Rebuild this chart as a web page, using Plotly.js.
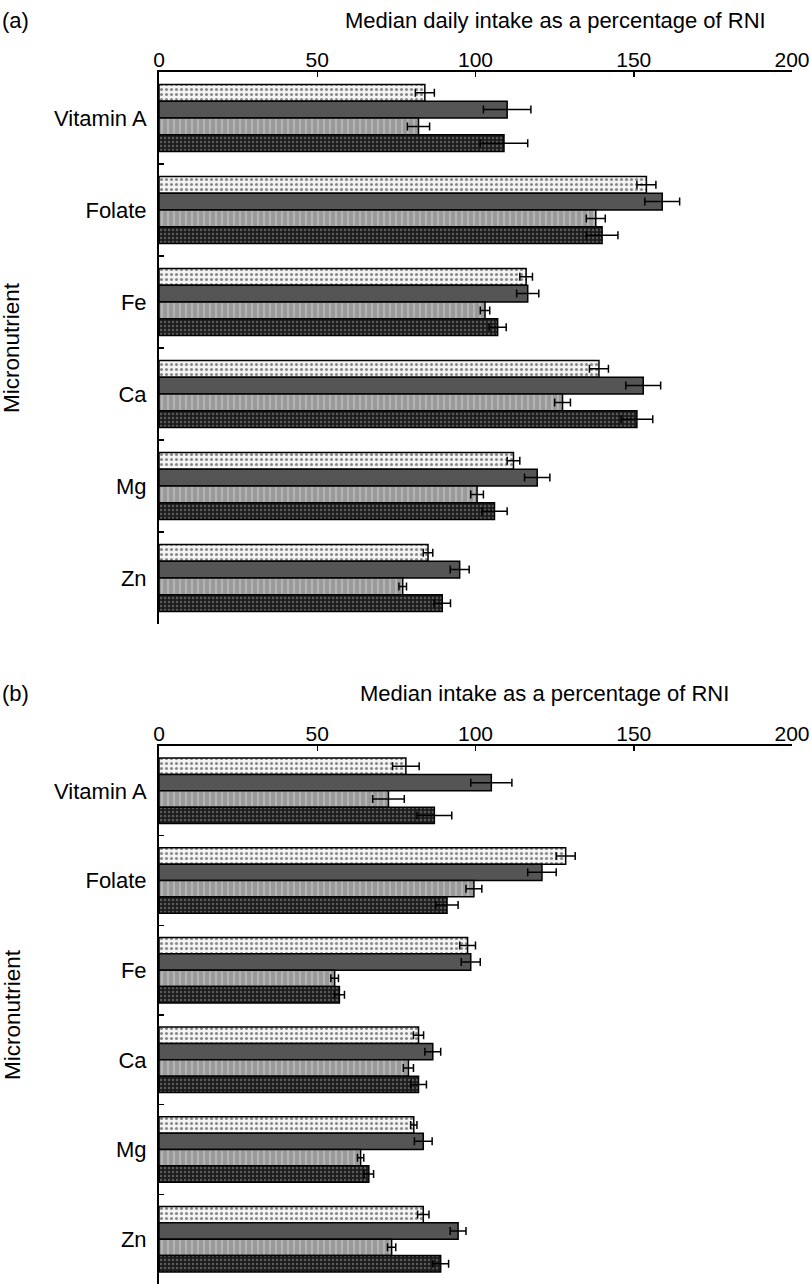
<!DOCTYPE html>
<html>
<head>
<meta charset="utf-8">
<script src="https://cdn.plot.ly/plotly-3.0.1.min.js"></script>
<style>html,body{margin:0;padding:0;background:#fff;}#chart{width:812px;height:1284px;}</style>
</head>
<body>
<div id="chart"></div>
<script>
const categories = ['Vitamin A', 'Folate', 'Fe', 'Ca', 'Mg', 'Zn'];
const xTicks = [0, 50, 100, 150, 200];
const titleA = 'Median daily intake as a percentage of RNI';
const titleB = 'Median intake as a percentage of RNI';
const yTitle = 'Micronutrient';

// Panel (a): median daily intake as % of RNI
const a1 = [84, 154, 116, 139, 112, 85];
const a1Err = [3, 3, 2, 3, 2, 1.5];
const a2 = [110, 159, 116.5, 153, 119.5, 95];
const a2Err = [7.5, 5.5, 3.5, 5.5, 4, 3];
const a3 = [82, 138, 103, 127.5, 100.5, 77];
const a3Err = [3.5, 3, 1.5, 2.5, 2, 1.2];
const a4 = [109, 140, 107, 151, 106, 89.5];
const a4Err = [7.5, 5, 2.7, 5, 4, 2.6];

// Panel (b): median intake as % of RNI
const b1 = [78, 128.5, 97.5, 82, 80.5, 83.5];
const b1Err = [4.2, 3, 2.5, 1.6, 1, 1.8];
const b2 = [105, 121, 98.5, 86.5, 83.5, 94.5];
const b2Err = [6.5, 4.5, 3, 2.5, 2.8, 2.5];
const b3 = [72.5, 99.5, 55.5, 78.8, 63.7, 73.5];
const b3Err = [5, 2.5, 1.2, 1.6, 1, 1.3];
const b4 = [87, 91, 57, 82, 66.3, 89];
const b4Err = [5.5, 3.5, 1.6, 2.5, 1.5, 2.5];

const styles = [
  {pattern: {shape: '.', bgcolor: '#f4f4f4', fgcolor: '#8a8a8a', size: 5, solidity: 0.3, fillmode: 'replace'}, color: '#f4f4f4'},
  {pattern: {shape: '', bgcolor: '#555555'}, color: '#555555'},
  {pattern: {shape: '|', bgcolor: '#9a9a9a', fgcolor: '#c4c4c4', size: 6, solidity: 0.2, fillmode: 'replace'}, color: '#9a9a9a'},
  {pattern: {shape: '.', bgcolor: '#1c1c1c', fgcolor: '#5a5a5a', size: 4, solidity: 0.3, fillmode: 'replace'}, color: '#1c1c1c'}
];

function mk(vals, errs, s, xa, ya) {
  return {
    type: 'bar', orientation: 'h', y: categories, x: vals,
    xaxis: xa, yaxis: ya, showlegend: false, hoverinfo: 'x+y',
    marker: {color: s.color, pattern: s.pattern, line: {color: '#000', width: 1.5}},
    error_x: {type: 'data', array: errs, symmetric: true, color: '#000', thickness: 1.5, width: 4}
  };
}

const data = [
  mk(a1, a1Err, styles[0], 'x', 'y'),
  mk(a2, a2Err, styles[1], 'x', 'y'),
  mk(a3, a3Err, styles[2], 'x', 'y'),
  mk(a4, a4Err, styles[3], 'x', 'y'),
  mk(b1, b1Err, styles[0], 'x2', 'y2'),
  mk(b2, b2Err, styles[1], 'x2', 'y2'),
  mk(b3, b3Err, styles[2], 'x2', 'y2'),
  mk(b4, b4Err, styles[3], 'x2', 'y2')
];

const FONT = 'Liberation Sans, Arial, sans-serif';
const H = 1284, W = 812;
const xdom = [159 / W, 792 / W];

function xAxis(anchor) {
  return {
    domain: xdom, range: [0, 200], side: 'top', anchor: anchor,
    tickvals: xTicks, ticktext: xTicks.map(String),
    ticks: 'inside', ticklen: 5, tickwidth: 1.5, tickcolor: '#000',
    showline: true, linecolor: '#000', linewidth: 2,
    showgrid: false, zeroline: false, fixedrange: true,
    ticklabelstandoff: -5,
    tickfont: {family: FONT, size: 21, color: '#000'}
  };
}
function yAxis(dom, anchor) {
  return {
    domain: dom, anchor: anchor, type: 'category', range: [5.5, -0.5],
    tickson: 'boundaries', ticks: 'inside', ticklen: 5, tickwidth: 1.5, tickcolor: '#000',
    showline: true, linecolor: '#000', linewidth: 2,
    showgrid: false, zeroline: false, fixedrange: true,
    ticklabelstandoff: 6,
    tickfont: {family: FONT, size: 22, color: '#000'}
  };
}

function ann(text, xpx, ypx, opts) {
  return Object.assign({
    text: text, xref: 'paper', yref: 'paper', x: xpx / W, y: 1 - ypx / H,
    xanchor: 'center', yanchor: 'middle', showarrow: false,
    font: {family: FONT, size: 22, color: '#000'}
  }, opts || {});
}

const layout = {
  width: W, height: H,
  margin: {l: 0, r: 0, t: 0, b: 0},
  paper_bgcolor: '#fff', plot_bgcolor: '#fff',
  barmode: 'group', bargap: 0.27, bargroupgap: 0,
  xaxis: xAxis('y'),
  yaxis: yAxis([1 - 624 / H, 1 - 72 / H], 'x'),
  xaxis2: xAxis('y2'),
  yaxis2: yAxis([0, 1 - 746 / H], 'x2'),
  annotations: [
    ann('(a)', 0, 20, {xanchor: 'left'}),
    ann('(b)', 0, 693, {xanchor: 'left'}),
    ann(titleA, 555, 20),
    ann(titleB, 544, 693),
    ann(yTitle, 12, 348, {textangle: -90, font: {family: FONT, size: 22.5, color: '#000'}}),
    ann(yTitle, 12, 1015, {textangle: -90, font: {family: FONT, size: 22.5, color: '#000'}})
  ]
};

Plotly.newPlot('chart', data, layout, {displayModeBar: false, staticPlot: true});
</script>
</body>
</html>
